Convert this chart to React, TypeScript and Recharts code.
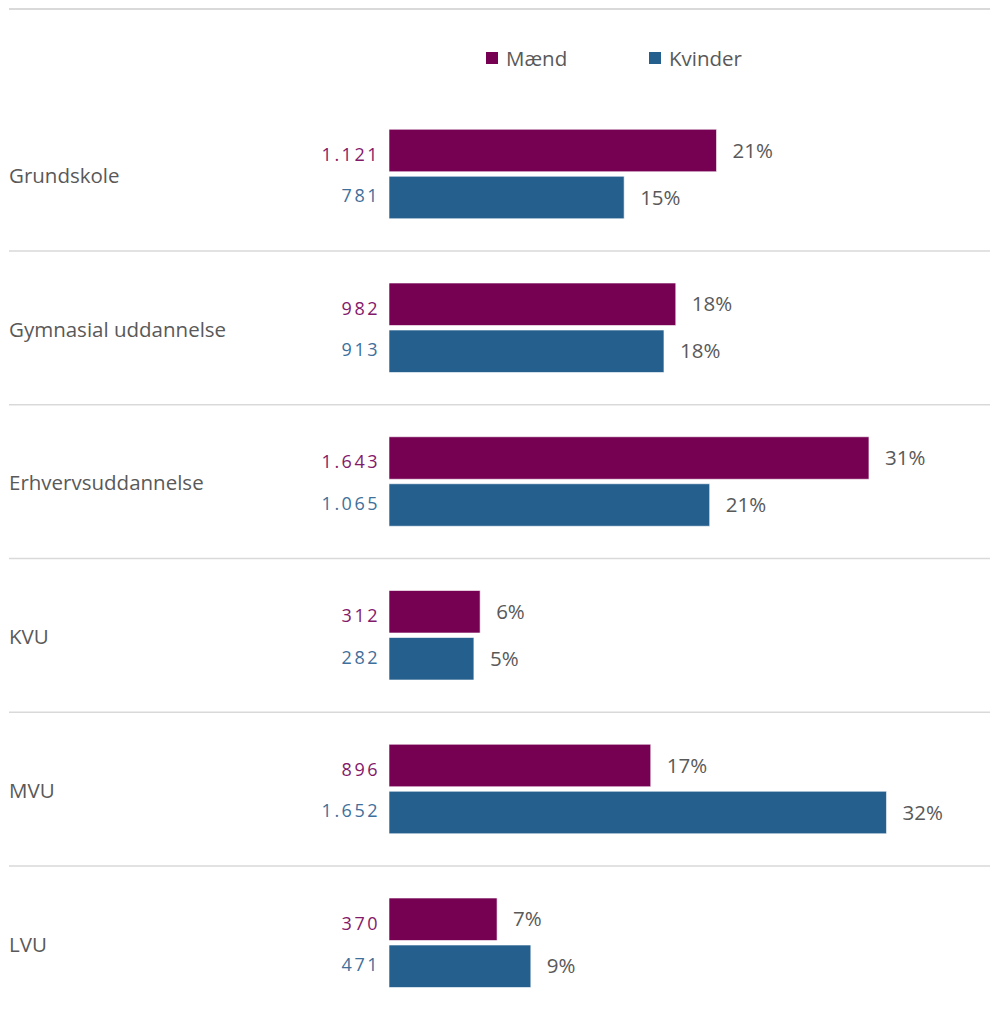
import React from "react";
import { BarChart, Bar, XAxis, YAxis, LabelList } from "recharts";

const categories = ["Grundskole", "Gymnasial uddannelse", "Erhvervsuddannelse", "KVU", "MVU", "LVU"];
const maendCount = [1121, 982, 1643, 312, 896, 370];
const kvinderCount = [781, 913, 1065, 282, 1652, 471];
const maendPct = [21.06, 18.44, 30.86, 5.86, 16.83, 6.95];
const kvinderPct = [15.12, 17.68, 20.62, 5.46, 31.99, 9.12];
const seriesNames = ["Mænd", "Kvinder"];

const MAEND = "#760052";
const KVINDER = "#245F8E";
const MAEND_TXT = "#84196A";
const KVINDER_TXT = "#3F709B";
const GRAY = "#595959";
const LINE = "#d9d9d9";
const FONT = "'Open Sans', Lato, sans-serif";
const WEIGHT = 400;

const data = categories.map((name, i) => ({
  name,
  maend: maendPct[i],
  kvinder: kvinderPct[i],
  maendCount: maendCount[i],
  kvinderCount: kvinderCount[i],
}));

const fmtCount = (v: number) => v.toLocaleString("da-DK").replace(/\u00a0/g, ".");

const CategoryTick = (props: any) => {
  const { y, payload, index } = props;
  const half = payload && payload.offset ? payload.offset : 76.875;
  return (
    <g>
      {index > 0 && (
        <line x1={9} x2={990} y1={y - half} y2={y - half} stroke={LINE} strokeWidth={1.5} />
      )}
      <text x={9} y={y + 1.5} dy="0.35em" textAnchor="start" fill={GRAY} fontSize={20.5} fontWeight={WEIGHT} fontFamily={FONT}>
        {payload.value}
      </text>
    </g>
  );
};

const makeCountLabel = (color: string, dy: number) => (props: any) => {
  const { x, y, height, value } = props;
  return (
    <text
      x={Number(x) - 9}
      y={Number(y) + Number(height) / 2 + dy}
      dy="0.35em"
      textAnchor="end"
      fill={color}
      fontSize={18}
      fontWeight={400}
      fontFamily={FONT}
      letterSpacing={2.5}
    >
      {fmtCount(Number(value))}
    </text>
  );
};

const PctLabel = (props: any) => {
  const { x, y, width, height, value } = props;
  return (
    <text
      x={Number(x) + Number(width) + 16}
      y={Number(y) + Number(height) / 2}
      dy="0.35em"
      textAnchor="start"
      fill={GRAY}
      fontSize={20.5}
      fontWeight={WEIGHT}
      fontFamily={FONT}
    >
      {Math.round(Number(value))}%
    </text>
  );
};

const LegendItem = ({ left, color, label }: { left: number; color: string; label: string }) => (
  <div style={{ position: "absolute", left, top: 46, height: 24, display: "flex", alignItems: "center" }}>
    <div style={{ width: 12, height: 12, background: color, marginRight: 8 }} />
    <span style={{ fontFamily: FONT, fontWeight: WEIGHT, fontSize: 20.5, color: GRAY, lineHeight: "24px" }}>{label}</span>
  </div>
);

export default function App() {
  return (
    <div style={{ position: "absolute", left: 0, top: 0, width: 991, height: 1015, overflow: "hidden", background: "#fff" }}>
      <div style={{ position: "absolute", left: 9, top: 8, width: 981, height: 2, background: LINE }} />
      <LegendItem left={486} color={MAEND} label={seriesNames[0]} />
      <LegendItem left={649} color={KVINDER} label={seriesNames[1]} />
      <BarChart
        width={991}
        height={1025}
        data={data}
        layout="vertical"
        margin={{ top: 97.25, right: 11, bottom: 5.25, left: 0 }}
        barGap={4.5}
      >
        <XAxis type="number" domain={[0, 38]} hide />
        <YAxis
          type="category"
          dataKey="name"
          width={389}
          axisLine={false}
          tickLine={false}
          tick={CategoryTick}
          interval={0}
        />
        <Bar dataKey="maend" name={seriesNames[0]} fill={MAEND} barSize={42.5} stroke="#ffffff" strokeWidth={0.6} isAnimationActive={false}>
          <LabelList dataKey="maendCount" content={makeCountLabel(MAEND_TXT, 4)} />
          <LabelList dataKey="maend" content={PctLabel} />
        </Bar>
        <Bar dataKey="kvinder" name={seriesNames[1]} fill={KVINDER} barSize={42.5} stroke="#ffffff" strokeWidth={0.6} isAnimationActive={false}>
          <LabelList dataKey="kvinderCount" content={makeCountLabel(KVINDER_TXT, -1.5)} />
          <LabelList dataKey="kvinder" content={PctLabel} />
        </Bar>
      </BarChart>
    </div>
  );
}
